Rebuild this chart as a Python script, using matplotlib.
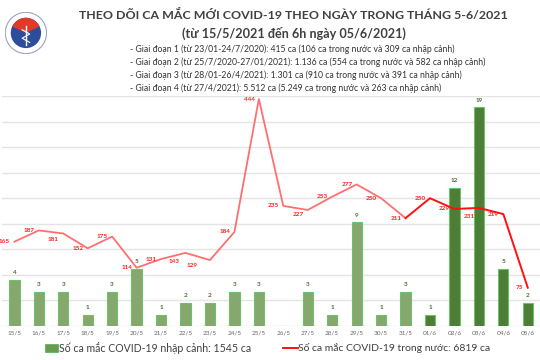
import matplotlib
matplotlib.use("Agg")
import matplotlib.pyplot as plt
import numpy as np
from matplotlib.patches import Rectangle, Circle, Wedge
from matplotlib.lines import Line2D

plt.rcParams['font.family'] = ['Lato', 'Open Sans', 'DejaVu Sans']

dates = ["15/5", "16/5", "17/5", "18/5", "19/5", "20/5", "21/5", "22/5", "23/5", "24/5",
         "25/5", "26/5", "27/5", "28/5", "29/5", "30/5", "31/5", "01/6", "02/6", "03/6",
         "04/6", "05/6"]
imported = [4, 3, 3, 1, 3, 5, 1, 2, 2, 3, 3, 0, 3, 1, 9, 1, 3, 1, 12, 19, 5, 2]
domestic = [165, 187, 181, 152, 175, 114, 131, 143, 129, 184, 444, 235, 227, 253, 277,
            250, 211, 250, 229, 231, 219, 75]
title1 = "THEO DÕI CA MẮC MỚI COVID-19 THEO NGÀY TRONG THÁNG 5-6/2021"
title2 = "(từ 15/5/2021 đến 6h ngày 05/6/2021)"
notes = [
    "- Giai đoạn 1 (từ 23/01-24/7/2020): 415 ca (106 ca trong nước và 309 ca nhập cảnh)",
    "- Giai đoạn 2 (từ 25/7/2020-27/01/2021): 1.136 ca (554 ca trong nước và 582 ca nhập cảnh)",
    "- Giai đoạn 3 (từ 28/01-26/4/2021): 1.301 ca (910 ca trong nước và 391 ca nhập cảnh)",
    "- Giai đoạn 4 (từ 27/4/2021): 5.512 ca (5.249 ca trong nước và 263 ca nhập cảnh)",
]
legend_bar = "Số ca mắc COVID-19 nhập cảnh: 1545 ca"
legend_line = "Số ca mắc COVID-19 trong nước: 6819 ca"
split_index = 17  # from 01/6 bars darker; line darker from 31/5

fig = plt.figure(figsize=(5.4, 3.6), dpi=100)
fig.patch.set_facecolor("white")
ax = fig.add_axes([0.004, 0.0944, 0.996, 0.6390])
ax2 = ax.twinx()

x = np.arange(len(dates))
light_bar, dark_bar = "#86a86c", "#4e7d36"
bar_colors = [light_bar if i < split_index else dark_bar for i in range(len(dates))]
ax.bar(x, imported, width=0.42, color=bar_colors, edgecolor="#6cc36c", linewidth=0.8, zorder=2)
ax.set_ylim(0, 20)
ax.set_xlim(-0.5, len(dates) - 0.5)
ax.set_yticks(np.linspace(0, 20, 10))
ax.grid(axis="y", color="#e4e4e4", linewidth=1.0, zorder=0)
ax.set_axisbelow(True)
ax.tick_params(axis="y", left=False, labelleft=False)
ax.set_xticks(x)
ax.set_xticklabels(dates, fontsize=4.6, color="#666666")
ax.tick_params(axis="x", length=0, pad=3)
for s in ax.spines.values():
    s.set_visible(False)
for i, v in enumerate(imported):
    if v > 0:
        ax.annotate(str(v), (i, v), xytext=(0, 3.5), textcoords="offset points",
                    ha="center", va="bottom", fontsize=4.6, fontweight="bold", color="#4a6a35")

ax2.set_ylim(0, 450)
ax2.axis("off")
ls = 16
ax2.plot(x[:ls + 1], domestic[:ls + 1], color="#ff6f6f", linewidth=1.3, zorder=3)
ax2.plot(x[ls:], domestic[ls:], color="#ff1010", linewidth=1.4, zorder=3)
dys = [0, 0, -4, 0, 0, 0, 0, -6, -4, 0, 0, 0, -3, 0, 0, 0, 0, 0, 0, -6, 0, 0]
dxs = [-7, -7, -7, -7, -7, -7, -7, -8, -13, -7, -7, -7, -7, -7, -7, -7, -7, -7, -7, -7, -7, -6]
for i, v in enumerate(domestic):
    ax2.annotate(str(v), (i, v), xytext=(dxs[i], dys[i]), textcoords="offset points",
                 ha="center", va="center", fontsize=4.6, fontweight="bold", color="#ff2020")

# titles
fig.text(0.544, 0.958, title1, ha="center", va="center", fontsize=8.9, fontweight="bold", color="#404040")
fig.text(0.544, 0.908, title2, ha="center", va="center", fontsize=9.1, fontweight="bold", color="#404040")
for k, t in enumerate(notes):
    fig.text(0.240, 0.862 - k * 0.036, t, ha="left", va="center", fontsize=6.2, color="#333333")

# logo
lax = fig.add_axes([0.009, 0.85, 0.078, 0.117])
lax.set_xlim(-1, 1); lax.set_ylim(-1, 1); lax.set_aspect("equal"); lax.axis("off")
lax.add_patch(Circle((0, 0), 0.98, facecolor="white", edgecolor="#9aa3c8", linewidth=0.8))
lax.add_patch(Circle((0, 0), 0.72, facecolor="#2c4c9c", edgecolor="none"))
lax.add_patch(Wedge((0, 0), 0.72, 25, 155, facecolor="#e23a2a", edgecolor="none"))
lax.plot([0, 0], [-0.55, 0.35], color="white", linewidth=1.0)
lax.plot([-0.18, 0.18, -0.18, 0.18], [0.15, -0.05, -0.25, -0.45], color="white", linewidth=0.8)

# legend
fig.patches.append(Rectangle((0.083, 0.022), 0.025, 0.022, transform=fig.transFigure,
                             facecolor="#6a9a4e", edgecolor="#5cb85c", linewidth=0.6))
fig.text(0.110, 0.033, legend_bar, ha="left", va="center", fontsize=7.6, color="#404040")
fig.lines.append(Line2D([0.524, 0.551], [0.033, 0.033], transform=fig.transFigure,
                        color="#ff1010", linewidth=1.4))
fig.text(0.552, 0.033, legend_line, ha="left", va="center", fontsize=7.5, color="#404040")

fig.savefig("out.png", dpi=100, facecolor="white")
